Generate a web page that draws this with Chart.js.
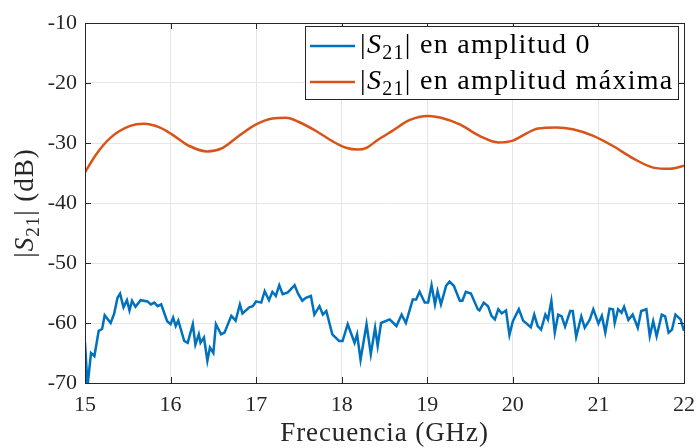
<!DOCTYPE html>
<html>
<head>
<meta charset="utf-8">
<script src="https://cdn.jsdelivr.net/npm/chart.js@4.4.1/dist/chart.umd.min.js"></script>
<style>
  body { margin: 0; background: #fff; }
  #contenedor { width: 698px; height: 448px; }
</style>
</head>
<body>
<div id="contenedor"><canvas id="s21Chart" width="698" height="448"></canvas></div>
<script>
// |S21| en amplitud 0 (curva azul, con ruido)
const frecAmp0 = [15.00, 15.03, 15.07, 15.11, 15.16, 15.20, 15.23, 15.30, 15.34, 15.38, 15.41, 15.45, 15.49, 15.52, 15.55, 15.59, 15.65, 15.73, 15.77, 15.81, 15.85, 15.89, 15.96, 16.00, 16.03, 16.06, 16.09, 16.16, 16.20, 16.26, 16.29, 16.33, 16.35, 16.39, 16.43, 16.46, 16.50, 16.53, 16.59, 16.63, 16.71, 16.76, 16.81, 16.84, 16.92, 16.96, 17.00, 17.06, 17.10, 17.15, 17.19, 17.23, 17.27, 17.31, 17.37, 17.45, 17.49, 17.54, 17.58, 17.64, 17.68, 17.74, 17.78, 17.82, 17.89, 17.97, 18.01, 18.07, 18.15, 18.18, 18.22, 18.29, 18.34, 18.39, 18.42, 18.46, 18.56, 18.64, 18.70, 18.75, 18.83, 18.87, 18.91, 18.97, 19.01, 19.05, 19.09, 19.12, 19.16, 19.22, 19.26, 19.31, 19.38, 19.41, 19.45, 19.51, 19.59, 19.61, 19.66, 19.71, 19.75, 19.79, 19.83, 19.87, 19.92, 19.96, 20.00, 20.07, 20.12, 20.21, 20.25, 20.29, 20.33, 20.38, 20.41, 20.45, 20.49, 20.53, 20.57, 20.61, 20.67, 20.70, 20.74, 20.80, 20.84, 20.90, 20.94, 21.00, 21.04, 21.08, 21.13, 21.17, 21.19, 21.23, 21.27, 21.30, 21.35, 21.40, 21.46, 21.50, 21.56, 21.60, 21.64, 21.68, 21.74, 21.78, 21.82, 21.86, 21.90, 21.96, 22.00];
const s21Amp0 = [-63.3, -70.5, -65.0, -65.5, -61.3, -61.0, -58.7, -60.0, -58.5, -55.8, -55.1, -57.4, -56.2, -57.9, -56.3, -57.3, -56.2, -56.4, -56.9, -56.6, -57.2, -56.9, -59.7, -60.2, -59.1, -60.5, -59.6, -63.0, -63.3, -60.2, -63.6, -61.9, -63.3, -62.4, -66.3, -64.1, -65.0, -60.2, -61.9, -61.6, -58.8, -59.6, -56.9, -58.4, -57.4, -57.2, -56.4, -56.6, -54.7, -56.2, -54.8, -55.5, -53.7, -55.2, -54.9, -53.7, -55.1, -56.3, -55.8, -55.5, -58.6, -57.2, -58.6, -58.0, -61.9, -63.0, -63.0, -60.2, -63.3, -61.9, -66.1, -60.2, -65.2, -60.8, -63.8, -60.0, -59.4, -60.5, -58.6, -60.0, -56.1, -56.1, -54.8, -56.6, -56.6, -53.7, -56.9, -54.7, -56.9, -53.8, -53.1, -53.8, -56.3, -56.3, -54.8, -55.1, -57.7, -57.9, -56.6, -57.2, -58.8, -59.4, -57.7, -58.4, -57.9, -62.0, -59.7, -57.7, -59.6, -60.7, -58.6, -60.5, -61.1, -58.6, -59.4, -56.3, -61.6, -58.6, -58.9, -60.6, -58.0, -58.0, -62.3, -58.9, -60.8, -59.4, -57.7, -60.1, -58.8, -61.6, -57.6, -57.7, -60.0, -57.7, -58.3, -57.3, -59.5, -58.6, -60.8, -58.0, -57.7, -62.2, -59.7, -62.2, -58.6, -58.9, -61.6, -61.1, -58.6, -59.4, -61.3];

// |S21| en amplitud máxima (curva naranja, suave)
const frecAmpMax = [15.00, 15.13, 15.30, 15.52, 15.69, 15.87, 16.02, 16.22, 16.43, 16.61, 16.80, 17.00, 17.19, 17.35, 17.50, 17.70, 17.89, 18.05, 18.19, 18.29, 18.42, 18.60, 18.79, 19.01, 19.16, 19.38, 19.61, 19.83, 20.00, 20.16, 20.29, 20.51, 20.70, 20.94, 21.17, 21.41, 21.64, 21.84, 22.00];
const s21AmpMax = [-34.9, -31.9, -29.1, -27.2, -26.8, -27.4, -28.6, -30.5, -31.4, -30.8, -28.8, -26.9, -25.9, -25.8, -26.5, -28.0, -29.7, -30.8, -31.1, -30.8, -29.5, -27.9, -26.2, -25.5, -25.8, -26.9, -28.8, -29.9, -29.6, -28.4, -27.6, -27.4, -27.7, -28.8, -30.5, -32.6, -34.1, -34.3, -33.8];

const ticksX = [15, 16, 17, 18, 19, 20, 21, 22];
const ticksY = [-70, -60, -50, -40, -30, -20, -10];

const azul = '#0072BD';
const naranja = '#D95319';
const fuente = '"Liberation Serif", "DejaVu Serif", serif';

// Texto con S en cursiva y subindice 21
function partesS21(resto, tam) {
    const sub = Math.round(tam * 0.7);
    return [
        { t: '|', f: tam + 'px ' + fuente, dy: 0 },
        { t: 'S', f: 'italic ' + tam + 'px ' + fuente, dy: 0 },
        { t: '21', f: sub + 'px ' + fuente, dy: Math.round(tam * 0.22) },
        { t: '|' + resto, f: tam + 'px ' + fuente, dy: 0 }
    ];
}

function anchoPartes(ctx, partes) {
    let w = 0;
    partes.forEach(p => { ctx.font = p.f; w += ctx.measureText(p.t).width; });
    return w;
}

function dibujarPartes(ctx, partes, x, y) {
    partes.forEach(p => {
        ctx.font = p.f;
        ctx.fillText(p.t, x, y + p.dy);
        x += ctx.measureText(p.t).width;
    });
}

const marcoPlugin = {
    id: 'marco',
    afterDraw(chart) {
        const ctx = chart.ctx;
        const a = chart.chartArea;
        const sx = chart.scales.x, sy = chart.scales.y;
        ctx.save();
        ctx.strokeStyle = '#262626';
        ctx.lineWidth = 1;
        // marcas hacia dentro
        ctx.beginPath();
        ticksX.forEach(v => {
            const px = Math.round(sx.getPixelForValue(v)) + 0.5;
            ctx.moveTo(px, a.bottom); ctx.lineTo(px, a.bottom - 6);
            ctx.moveTo(px, a.top); ctx.lineTo(px, a.top + 6);
        });
        ticksY.forEach(v => {
            const py = Math.round(sy.getPixelForValue(v)) + 0.5;
            ctx.moveTo(a.left, py); ctx.lineTo(a.left + 6, py);
            ctx.moveTo(a.right, py); ctx.lineTo(a.right - 6, py);
        });
        ctx.stroke();
        ctx.strokeRect(Math.round(a.left) + 0.5, Math.round(a.top) + 0.5,
            Math.round(a.right - a.left), Math.round(a.bottom - a.top));

        // leyenda
        const lx = 305, ly = 26, lw = 373, lh = 73;
        ctx.fillStyle = '#fff';
        ctx.fillRect(lx, ly, lw, lh);
        ctx.strokeRect(lx + 0.5, ly + 0.5, lw, lh);
        const filas = [
            { c: azul, txt: ' en amplitud 0', y: 46 },
            { c: naranja, txt: ' en amplitud máxima', y: 82 }
        ];
        filas.forEach(f => {
            ctx.strokeStyle = f.c;
            ctx.lineWidth = 2.5;
            ctx.beginPath();
            ctx.moveTo(310, f.y); ctx.lineTo(355, f.y);
            ctx.stroke();
            ctx.fillStyle = '#000';
            ctx.textBaseline = 'alphabetic';
            ctx.letterSpacing = '1.3px';
            dibujarPartes(ctx, partesS21(f.txt, 28), 360, f.y + 7);
        });

        // titulos de ejes
        ctx.fillStyle = '#262626';
        ctx.textAlign = 'center';
        ctx.textBaseline = 'middle';
        ctx.letterSpacing = '0.9px';
        ctx.font = '27px ' + fuente;
        ctx.fillText('Frecuencia (GHz)', (a.left + a.right) / 2, 434);

        ctx.save();
        ctx.translate(24, (a.top + a.bottom) / 2);
        ctx.rotate(-Math.PI / 2);
        ctx.textAlign = 'left';
        ctx.textBaseline = 'alphabetic';
        ctx.letterSpacing = '1px';
        const partes = partesS21(' (dB)', 27);
        const w = anchoPartes(ctx, partes);
        dibujarPartes(ctx, partes, -w / 2, 9);
        ctx.restore();
        ctx.restore();
    }
};

const ctx = document.getElementById('s21Chart');
new Chart(ctx, {
    type: 'line',
    data: {
        datasets: [{
            label: '|S21| en amplitud 0',
            data: frecAmp0.map((f, i) => ({ x: f, y: s21Amp0[i] })),
            borderColor: azul,
            borderWidth: 2.5,
            pointRadius: 0,
            tension: 0
        }, {
            label: '|S21| en amplitud máxima',
            data: frecAmpMax.map((f, i) => ({ x: f, y: s21AmpMax[i] })),
            borderColor: naranja,
            borderWidth: 2.5,
            pointRadius: 0,
            cubicInterpolationMode: 'monotone'
        }]
    },
    options: {
        responsive: false,
        animation: false,
        maintainAspectRatio: false,
        devicePixelRatio: 1,
        layout: { padding: { top: 23, right: 14, left: 0, bottom: 0 } },
        plugins: { legend: { display: false }, tooltip: { enabled: false } },
        scales: {
            x: {
                type: 'linear',
                min: 15, max: 22,
                afterBuildTicks: s => { s.ticks = ticksX.map(v => ({ value: v })); },
                afterFit: s => { s.height = 65; s.paddingLeft = 0; s.paddingRight = 0; },
                grid: { color: '#e6e6e6', drawTicks: false },
                border: { display: false },
                ticks: { color: '#262626', padding: 9, maxRotation: 0, autoSkip: false, font: { family: fuente, size: 22 } }
            },
            y: {
                min: -70, max: -10,
                afterBuildTicks: s => { s.ticks = ticksY.map(v => ({ value: v })); },
                afterFit: s => { s.width = 85; s.paddingTop = 0; s.paddingBottom = 0; },
                grid: { color: '#e6e6e6', drawTicks: false },
                border: { display: false },
                ticks: { color: '#262626', padding: 8, autoSkip: false, font: { family: fuente, size: 22 } }
            }
        }
    },
    plugins: [marcoPlugin]
});
</script>
</body>
</html>
